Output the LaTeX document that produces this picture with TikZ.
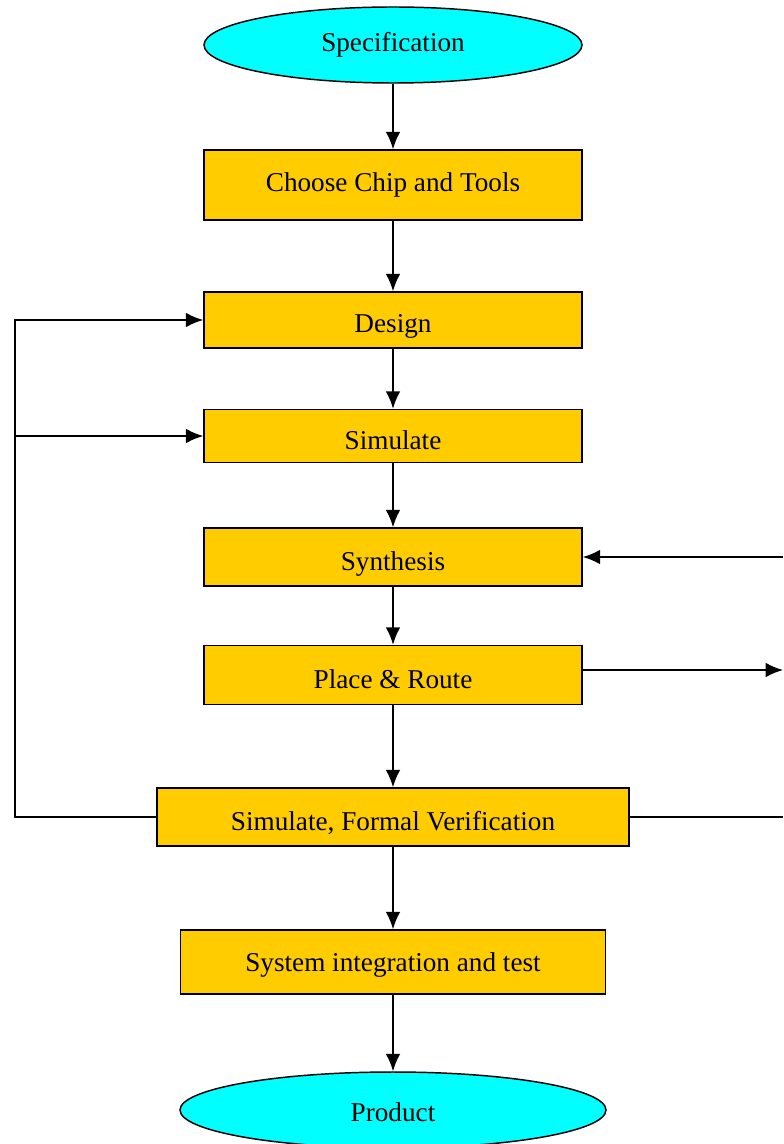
\documentclass[tikz,border=0pt]{standalone}
\usepackage{fontspec}
\setmainfont{Liberation Serif}
\usetikzlibrary{shapes.geometric}
\usetikzlibrary{arrows.meta}
\definecolor{stepyellow}{HTML}{FFCC00}
\definecolor{endcyan}{HTML}{00FFFF}
\tikzset{>={Latex[length=13pt,width=11pt]}}

\begin{document}
\begin{tikzpicture}[x=0.75pt, y=-0.75pt, font=\fontsize{20.4}{24}\selectfont]
\tikzset{stepbox/.style={draw, line width=1.1pt, fill=stepyellow, inner sep=0pt, minimum width=283.5pt, text height=19.5pt, text depth=0pt},
         endell/.style={draw, ellipse, line width=1.1pt, fill=endcyan, inner sep=0pt, minimum width=283.5pt, minimum height=57pt},
         flow/.style={->, line width=1.4pt}}
    \useasboundingbox (0,0) rectangle (783,1144);

    \node[endell] (spec) at (393,45) {Specification};
    \node[stepbox, minimum height=52.5pt, text height=10.5pt] (chip) at (393,185) {Choose Chip and Tools};
    \node[stepbox, minimum height=42pt] (design) at (393,320) {Design};
    \node[stepbox, minimum height=39.75pt] (sim) at (393,436) {Simulate};
    \node[stepbox, minimum height=43.5pt] (syn) at (393,557) {Synthesis};
    \node[stepbox, minimum height=44.25pt] (par) at (393,675) {Place \& Route};
    \node[stepbox, minimum width=354pt, minimum height=43.5pt] (fv) at (393,817) {Simulate, Formal Verification};
    \node[stepbox, minimum width=318.75pt, minimum height=48pt, text height=13.5pt] (sit) at (393,962) {System integration and test};
    \node[endell, minimum width=319.5pt, text height=16.5pt, text depth=0pt] (prod) at (393,1110) {Product};

    \coordinate (ltop) at (15,320);
    \coordinate (lmid) at (15,436);
    \coordinate (rsyn) at (783,557);
    \coordinate (rpar) at (783,670);
    \coordinate (rfv) at (783,817);

    \draw[flow] (spec) -- (chip);
    \draw[flow] (chip) -- (design);
    \draw[flow] (design) -- (sim);
    \draw[flow] (sim) -- (syn);
    \draw[flow] (syn) -- (par);
    \draw[flow] (par) -- (fv);
    \draw[flow] (fv) -- (sit);
    \draw[flow] (sit) -- (prod);

% feedback loops
    \draw[flow] (fv.west) -| (ltop) -- (design.west);
    \draw[flow] (lmid) -- (sim.west);
    \draw[flow] (rsyn) -- (syn.east);
    \draw[flow] (par.east |- rpar) -- (rpar);
    \draw[line width=1.4pt] (fv.east) -- (rfv);
\end{tikzpicture}
\end{document}
